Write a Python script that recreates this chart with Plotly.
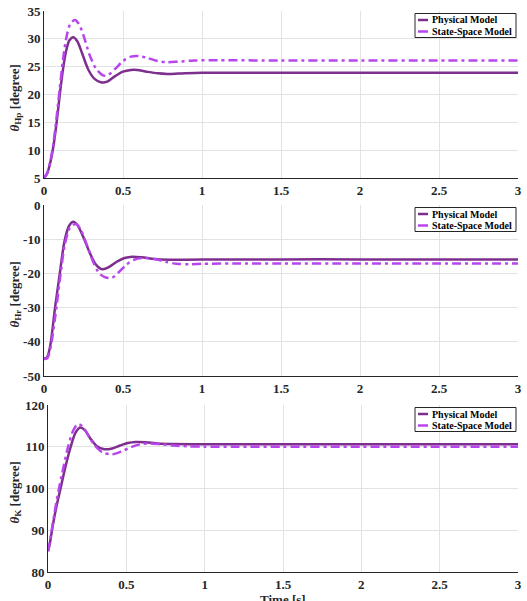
import plotly.graph_objects as go

# ---------------- data ----------------
t_hp_phys = [0, 0.02, 0.04, 0.06, 0.08, 0.10, 0.12, 0.14, 0.16, 0.185, 0.21, 0.24, 0.28, 0.32, 0.36,
             0.40, 0.45, 0.50, 0.55, 0.59, 0.65, 0.72, 0.78, 0.85, 1.0, 1.5, 2.0, 2.5, 3.0]
hp_phys = [5, 5.8, 7.8, 10.8, 15, 20, 24.5, 27.8, 29.7, 30.3, 29.6, 27.5, 24.5, 22.8, 22.2,
           22.3, 23.3, 24.1, 24.4, 24.4, 24.1, 23.8, 23.7, 23.75, 23.9, 23.9, 23.9, 23.9, 23.9]

t_hp_ss = [0, 0.02, 0.04, 0.06, 0.08, 0.10, 0.12, 0.14, 0.165, 0.195, 0.22, 0.25, 0.29, 0.33, 0.37,
           0.40, 0.45, 0.50, 0.55, 0.60, 0.65, 0.72, 0.78, 0.85, 0.95, 1.1, 1.5, 2.0, 2.5, 3.0]
hp_ss = [5, 5.9, 8.0, 11.3, 16, 21.2, 26.2, 30.0, 32.6, 33.4, 32.7, 30.6, 27.0, 24.6, 23.5,
         23.4, 24.6, 26.0, 26.8, 26.9, 26.6, 26.0, 25.8, 25.9, 26.1, 26.15, 26.1, 26.1, 26.1, 26.1]

t_hr_phys = [0, 0.02, 0.04, 0.07, 0.10, 0.13, 0.16, 0.186, 0.21, 0.25, 0.29, 0.33, 0.37, 0.41,
             0.46, 0.51, 0.56, 0.62, 0.70, 0.80, 0.90, 1.0, 1.5, 2.0, 2.5, 3.0]
hr_phys = [-45, -44.5, -41, -30, -20, -10.5, -6, -4.9, -5.8, -9.5, -14, -17.5, -18.8, -18.2,
           -16.6, -15.5, -15.1, -15.3, -15.8, -16.0, -16.0, -15.95, -15.9, -15.9, -15.9, -15.9]

t_hr_ss = [0, 0.02, 0.04, 0.07, 0.10, 0.13, 0.16, 0.185, 0.205, 0.23, 0.27, 0.31, 0.35, 0.39,
           0.43, 0.47, 0.52, 0.57, 0.63, 0.70, 0.77, 0.84, 0.92, 1.0, 1.2, 1.5, 2.0, 2.5, 3.0]
hr_ss = [-45, -44.8, -42, -33, -22, -12, -7, -5.8, -5.6, -7, -11.5, -16.5, -20, -21.2,
         -21.3, -19.8, -17.5, -16, -15.5, -15.8, -16.6, -17.2, -17.3, -17.2, -17.1, -17.1, -17.1, -17.1, -17.1]

t_k_phys = [0, 0.01, 0.03, 0.05, 0.08, 0.11, 0.145, 0.175, 0.205, 0.235, 0.27, 0.31, 0.36, 0.41,
            0.46, 0.51, 0.56, 0.62, 0.70, 0.80, 1.0, 1.5, 2.0, 2.5, 3.0]
k_phys = [85, 86.5, 91, 95, 100, 105, 110, 113.3, 114.6, 114, 112, 110.2, 109.4, 109.6,
          110.3, 110.9, 111.15, 111.1, 110.8, 110.65, 110.6, 110.6, 110.6, 110.6, 110.6]

t_k_ss = [0, 0.01, 0.03, 0.05, 0.07, 0.10, 0.128, 0.16, 0.19, 0.22, 0.26, 0.30, 0.35, 0.41,
          0.47, 0.53, 0.59, 0.65, 0.72, 0.80, 0.90, 1.0, 1.2, 1.5, 2.0, 2.5, 3.0]
k_ss = [85, 86.8, 91.5, 96, 100, 105.3, 110, 113.8, 115.4, 114.9, 112.5, 110.2, 108.6, 108.2,
        108.9, 109.9, 110.6, 110.8, 110.6, 110.3, 110.1, 110.0, 110.0, 110.0, 110.0, 110.0, 110.0]

series_names = ["Physical Model", "State-Space Model"]
y_titles = ["<i>θ</i><sub>Hp</sub> [degree]", "<i>θ</i><sub>Hr</sub> [degree]", "<i>θ</i><sub>K</sub> [degree]"]
x_title = "Time [s]"
x_ticks = [0, 0.5, 1, 1.5, 2, 2.5, 3]
x_ticktext = ["0", "0.5", "1", "1.5", "2", "2.5", "3"]
y1_ticks = [5, 10, 15, 20, 25, 30, 35]
y2_ticks = [-50, -40, -30, -20, -10, 0]
y2_ticktext = ["-50", "-40", "-30", "-20", "-10", "0"]
y3_ticks = [80, 90, 100, 110, 120]

# ---------------- style ----------------
W, H = 527, 601
C_PHYS = "#7E2F8E"
C_SS = "#B845EE"
DASH = "9px,4px,3px,4px"
FONT = "Liberation Serif"
TXT = "#262626"

def py(p):  # pixel from top -> paper
    return 1 - p / H

def px(p):
    return p / W

fig = go.Figure()

panels = [
    (t_hp_phys, hp_phys, t_hp_ss, hp_ss),
    (t_hr_phys, hr_phys, t_hr_ss, hr_ss),
    (t_k_phys, k_phys, t_k_ss, k_ss),
]
for i, (tp, vp, ts, vs) in enumerate(panels):
    xa = "x" if i == 0 else f"x{i+1}"
    ya = "y" if i == 0 else f"y{i+1}"
    fig.add_trace(go.Scatter(x=tp, y=vp, mode="lines", name=series_names[0],
                             line=dict(color=C_PHYS, width=2.5, shape="spline", smoothing=0.8),
                             xaxis=xa, yaxis=ya, showlegend=False))
    fig.add_trace(go.Scatter(x=ts, y=vs, mode="lines", name=series_names[1],
                             line=dict(color=C_SS, width=2.5, dash=DASH,
                                       shape="spline", smoothing=0.8),
                             xaxis=xa, yaxis=ya, showlegend=False))

# pixel layout of plot areas (top, bottom, left)
areas = [(11, 178, 44), (205, 376, 44), (405, 572, 48)]
right = 518

axis_common = dict(showline=True, linecolor=TXT, linewidth=1, mirror=False,
                   showgrid=True, gridcolor="#e3e3e3", gridwidth=1, zeroline=False,
                   ticks="", tickfont=dict(family=FONT, size=13, color=TXT, weight="bold"))

yranges = [[5, 35], [-50, 0], [80, 120]]
ytickvals = [y1_ticks, y2_ticks, y3_ticks]
yticktext = [[str(v) for v in y1_ticks], y2_ticktext, [str(v) for v in y3_ticks]]

layout = dict(width=W, height=H, margin=dict(l=0, r=0, t=0, b=0),
              paper_bgcolor="white", plot_bgcolor="white", showlegend=False)

for i, (top, bot, left) in enumerate(areas):
    sx = "xaxis" if i == 0 else f"xaxis{i+1}"
    sy = "yaxis" if i == 0 else f"yaxis{i+1}"
    ax_id = "x" if i == 0 else f"x{i+1}"
    ay_id = "y" if i == 0 else f"y{i+1}"
    layout[sx] = dict(axis_common, domain=[px(left), px(right)], range=[0, 3],
                      tickvals=x_ticks, ticktext=x_ticktext, anchor=ay_id, automargin=False)
    layout[sy] = dict(axis_common, domain=[py(bot), py(top)], range=yranges[i],
                      tickvals=ytickvals[i], ticktext=yticktext[i], anchor=ax_id, automargin=False)

fig.update_layout(**layout)

annotations = []
shapes = []
for i, (top, bot, left) in enumerate(areas):
    annotations.append(dict(text=y_titles[i], x=px(15), y=py((top + bot) / 2 + 4),
                            xref="paper", yref="paper", showarrow=False, textangle=-90,
                            xanchor="center", yanchor="middle",
                            font=dict(family=FONT, size=13, color=TXT, weight="bold")))
    # compact legend box (MATLAB style)
    bx0, bx1 = 415, 516
    by0, by1 = top + 2.5, top + 26.5
    shapes.append(dict(type="rect", xref="paper", yref="paper",
                       x0=px(bx0), x1=px(bx1), y0=py(by1), y1=py(by0),
                       line=dict(color="#262626", width=1), fillcolor="white", layer="above"))
    for j, (name, col) in enumerate([(series_names[0], C_PHYS), (series_names[1], C_SS)]):
        ry = by0 + 6.5 + j * 11.5
        shapes.append(dict(type="line", xref="paper", yref="paper",
                           x0=px(418), x1=px(428), y0=py(ry), y1=py(ry),
                           line=dict(color=col, width=2.5), layer="above"))
        annotations.append(dict(text=name, x=px(430), y=py(ry), xref="paper", yref="paper",
                                showarrow=False, xanchor="left", yanchor="middle",
                                font=dict(family=FONT, size=10, color="black", weight="bold")))

annotations.append(dict(text=x_title, x=px((48 + right) / 2), y=py(590),
                        xref="paper", yref="paper", showarrow=False,
                        xanchor="center", yanchor="top",
                        font=dict(family=FONT, size=13, color=TXT, weight="bold")))
fig.update_layout(annotations=annotations, shapes=shapes)

fig.write_html("out.html")
